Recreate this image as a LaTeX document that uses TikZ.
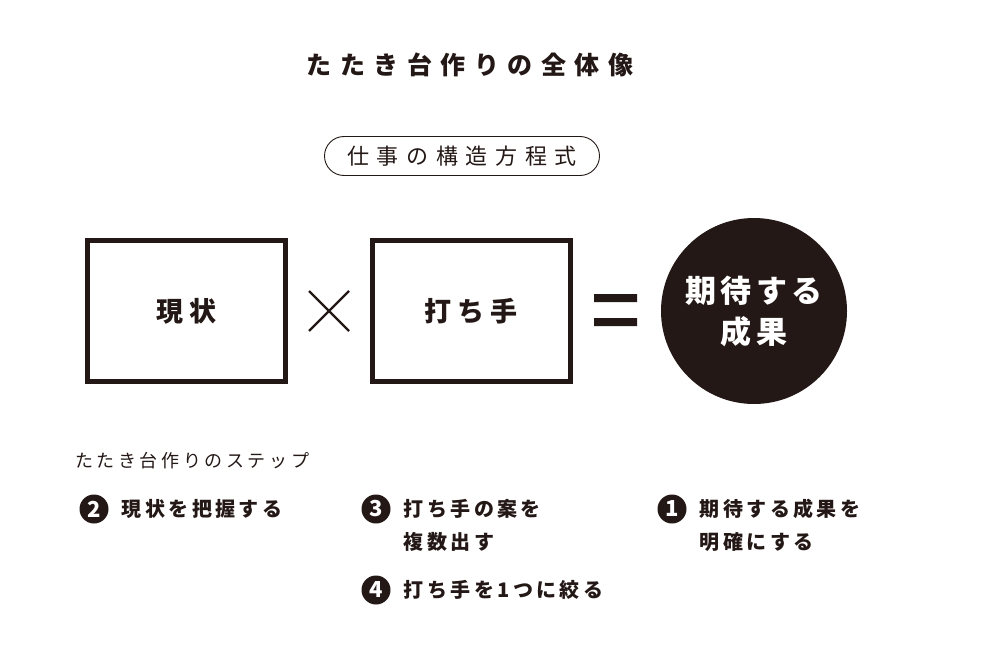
\documentclass[tikz,border=0pt]{standalone}
\usepackage{fontspec}
\newfontfamily\jpfont{Noto Sans CJK JP}
\usetikzlibrary{positioning,calc}
\definecolor{ink}{HTML}{231815}

\begin{document}
\begin{tikzpicture}[
  x=1pt,
  y=-1pt,
  text=ink,
  every node/.style={inner sep=0pt},
  jp/.style n args={4}{font=\jpfont\addfontfeatures{LetterSpace=#3}\fontsize{#1}{#2}\selectfont#4},
  heading/.style={jp={25}{30}{34}{\bfseries}},
  pill/.style={draw=ink, line width=0.9pt, rounded corners=19.5pt,
    minimum width=275pt, minimum height=39pt, jp={22}{26}{35}{}},
  termbox/.style={draw=ink, line width=5pt, minimum width=198pt,
    minimum height=141pt, jp={27}{32}{24}{\bfseries}},
  result/.style={circle, fill=ink, text=white, minimum size=186pt,
    align=center, jp={31}{41}{14}{\bfseries}},
  subhead/.style={jp={18}{22}{20}{}},
  stepnum/.style={circle, fill=ink, text=white, minimum size=29pt,
    jp={22}{26}{0}{\bfseries}},
  steptext/.style={align=left, jp={20}{33}{17}{\bfseries}, yshift=-7.6pt},
  twoline/.style={yshift=-33pt}
]
  \useasboundingbox (0,0) rectangle (984,655);

  \node[heading] (title) at (470,65) {たたき台作りの全体像};
  \node[pill] (formula) at (462,156) {仕事の構造方程式};

  % equation
  \node[termbox] (now) at (186.5,311) {現状};
  \node[termbox] (move) at (471,311) {打ち手};
  \node[result] (goal) at (754,311) {期待する\\成果};
  \coordinate (times) at (329,311);
  \coordinate (equals) at (616,310);
  \draw[ink, line width=2.2pt] ($(times)+(-20,-20)$) -- ($(times)+(20,20)$)
    ($(times)+(-20,20)$) -- ($(times)+(20,-20)$);
  \fill[ink] ($(equals)+(-22,-16)$) rectangle ($(equals)+(21,-8)$)
    ($(equals)+(-22,8)$) rectangle ($(equals)+(21,16)$);

  % steps
  \node[subhead, anchor=west] (steps) at (75,461) {たたき台作りのステップ};
  \node[stepnum] (num2) at (94,509) {2};
  \node[steptext, right=13pt of num2, anchor=base west] (step2) {現状を把握する};
  \node[stepnum] (num3) at (376,509) {3};
  \node[steptext, twoline, right=13pt of num3, anchor=base west] (step3) {打ち手の案を\\複数出す};
  \node[stepnum] (num4) at (376,590) {4};
  \node[steptext, right=13pt of num4, anchor=base west] (step4) {打ち手を1つに絞る};
  \node[stepnum] (num1) at (672,509) {1};
  \node[steptext, twoline, right=13pt of num1, anchor=base west] (step1) {期待する成果を\\明確にする};
\end{tikzpicture}
\end{document}
